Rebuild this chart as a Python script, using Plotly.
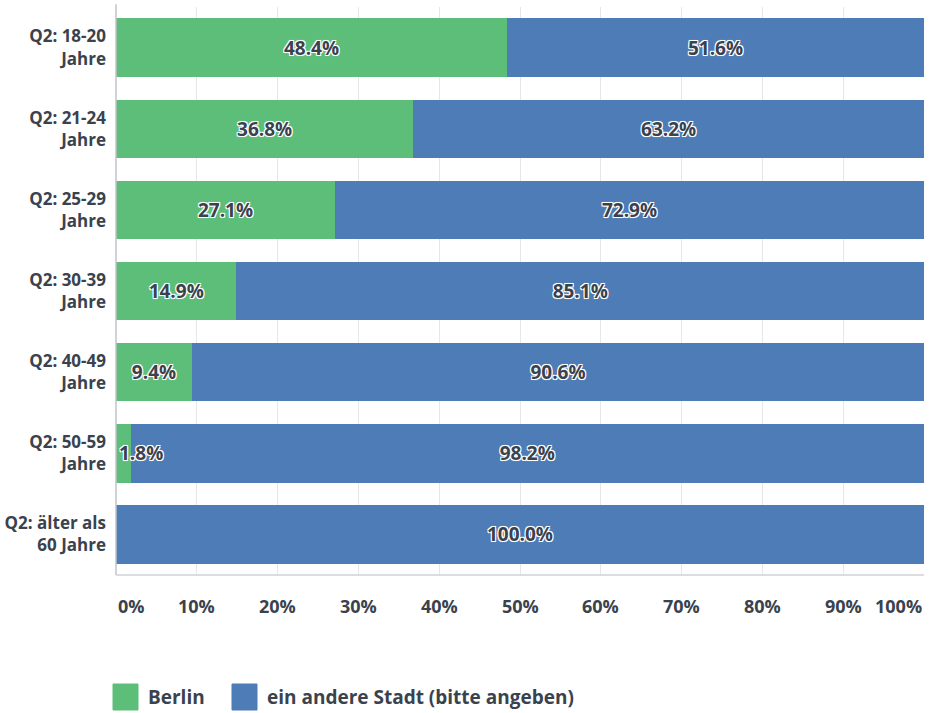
import plotly.graph_objects as go

# Survey breakdown: where respondents live, by age group (percent of row)
categories = [
    "Q2: 18-20<br>Jahre",
    "Q2: 21-24<br>Jahre",
    "Q2: 25-29<br>Jahre",
    "Q2: 30-39<br>Jahre",
    "Q2: 40-49<br>Jahre",
    "Q2: 50-59<br>Jahre",
    "Q2: älter als<br>60 Jahre",
]
berlin = [48.4, 36.8, 27.1, 14.9, 9.4, 1.8, 0.0]
andere = [51.6, 63.2, 72.9, 85.1, 90.6, 98.2, 100.0]
series_names = ["Berlin", "ein andere Stadt (bitte angeben)"]
tick_values = [0, 10, 20, 30, 40, 50, 60, 70, 80, 90, 100]
tick_labels = ["0%", "10%", "20%", "30%", "40%", "50%", "60%", "70%", "80%", "90%", "100%"]

GREEN = "#5dbe7a"
BLUE = "#4d7cb6"
TEXT = "#3a424e"
FONT = "Open Sans"
HALO = ("-1px -1px 0 #ffffff, 1px -1px 0 #ffffff, -1px 1px 0 #ffffff, "
        "1px 1px 0 #ffffff, 0 0 2px #ffffff")

def pct(v):
    return f"{v:.1f}%"

label_font = dict(family=FONT, size=19, color=TEXT, weight=700, shadow=HALO)

fig = go.Figure()

# Labels that fit inside the green segment are drawn by the bar itself
berlin_text = [pct(v) if v >= 5 else "" for v in berlin]
andere_text = [pct(v) if v > 0 else "" for v in andere]

fig.add_trace(go.Bar(
    y=categories, x=berlin, orientation="h", name=series_names[0],
    marker=dict(color=GREEN, line=dict(width=0)),
    text=berlin_text, textposition="inside", insidetextanchor="middle",
    constraintext="none", textfont=label_font,
    hoverinfo="skip", showlegend=False,
))
fig.add_trace(go.Bar(
    y=categories, x=andere, orientation="h", name=series_names[1],
    marker=dict(color=BLUE, line=dict(width=0)),
    text=andere_text, textposition="inside", insidetextanchor="middle",
    constraintext="none", textfont=label_font,
    hoverinfo="skip", showlegend=False,
))

annotations = []
# Small non-zero green segments: label starts at the bar's left edge
for cat, v in zip(categories, berlin):
    if 0 < v < 5:
        annotations.append(dict(
            x=0, y=cat, xref="x", yref="y", text=pct(v), showarrow=False,
            xanchor="left", xshift=1, font=label_font,
        ))

# x tick labels, kept inside the plot width at both ends
for tv, tl in zip(tick_values, tick_labels):
    anchor = "center"
    if tv == tick_values[0]:
        anchor = "left"
    elif tv == tick_values[-1]:
        anchor = "right"
    annotations.append(dict(
        x=tv, y=0, xref="x", yref="paper", yanchor="top", yshift=-17,
        xanchor=anchor, text=tl, showarrow=False,
        font=dict(family=FONT, size=18, color=TEXT, weight=700),
    ))

# Legend: swatches and names beneath the chart
shapes = []
legend_items = [(series_names[0], GREEN, 113), (series_names[1], BLUE, 232)]
for name, col, px in legend_items:
    shapes.append(dict(
        type="rect", xref="paper", yref="paper",
        x0=(px - 116) / 808, x1=(px + 25 - 116) / 808,
        y0=(575 - 710) / 568, y1=(575 - 684) / 568,
        fillcolor=col, line=dict(color=col, width=1),
    ))
    annotations.append(dict(
        x=(px + 33 - 116) / 808, y=(575 - 697) / 568, xref="paper", yref="paper",
        xanchor="left", yanchor="middle", text=name, showarrow=False,
        font=dict(family=FONT, size=19, color=TEXT, weight=700),
    ))

# Plot frame: left axis line and bottom line
shapes.append(dict(type="line", xref="paper", yref="paper", x0=0, x1=0, y0=0, y1=1.005,
                   line=dict(color="#bfc3c8", width=1.5)))
shapes.append(dict(type="line", xref="paper", yref="paper", x0=0, x1=1, y0=0, y1=0,
                   line=dict(color="#cfd2d6", width=1.5)))

fig.update_layout(
    width=929, height=713,
    margin=dict(l=116, r=5, t=7, b=138),
    barmode="stack", bargap=0.28,
    plot_bgcolor="white", paper_bgcolor="white",
    font=dict(family=FONT, color=TEXT),
    showlegend=False,
    annotations=annotations, shapes=shapes,
)
fig.update_xaxes(
    range=[0, 100], tickvals=tick_values, showticklabels=False,
    showgrid=True, gridcolor="#e6e7e9", gridwidth=1, zeroline=False,
    showline=False, fixedrange=True,
)
fig.update_yaxes(
    autorange="reversed", showgrid=False, zeroline=False, showline=False,
    ticks="", ticklabelstandoff=9,
    tickfont=dict(family=FONT, size=17, color=TEXT, weight=700),
    fixedrange=True,
)

fig.write_html("out.html")
